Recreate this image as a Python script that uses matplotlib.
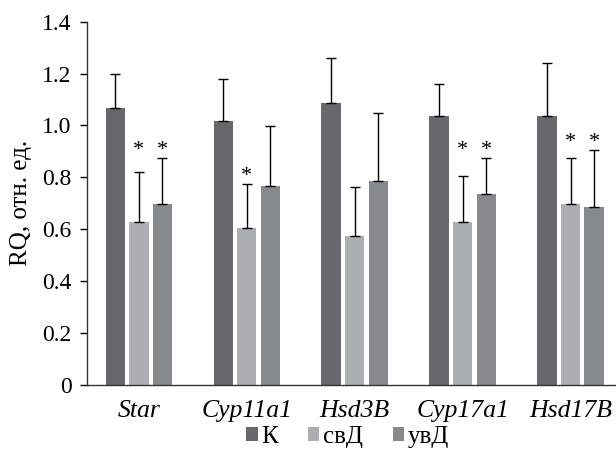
import matplotlib

matplotlib.use("Agg")
import matplotlib.pyplot as plt
import numpy as np
from matplotlib.patches import Patch

plt.rcParams["font.family"] = ["Liberation Serif", "DejaVu Serif"]

# %% Data
genes = ["Star", "Cyp11a1", "Hsd3B", "Cyp17a1", "Hsd17B"]
groups = ["К", "свД", "увД"]
k_vals = [1.066, 1.016, 1.085, 1.037, 1.037]
k_err = [0.132, 0.163, 0.176, 0.124, 0.203]
sv_vals = [0.629, 0.606, 0.575, 0.629, 0.698]
sv_err = [0.190, 0.169, 0.189, 0.177, 0.178]
uv_vals = [0.698, 0.768, 0.788, 0.735, 0.687]
uv_err = [0.178, 0.231, 0.259, 0.141, 0.219]
# significance marks (*) per group
sv_sig = [True, True, False, True, True]
uv_sig = [True, False, False, True, True]

colors = ["#67676c", "#adaeb2", "#88898d"]

# %% Plot
fig = plt.figure(figsize=(6.16, 4.49), dpi=100)
ax = fig.add_axes([0.1412, 0.1425, 0.8588, 0.8092])

x = np.arange(len(genes))
width = 0.18
step = 0.218
for i, (vals, errs) in enumerate([(k_vals, k_err), (sv_vals, sv_err), (uv_vals, uv_err)]):
    pos = x + (i - 1) * step
    ax.bar(pos, vals, width, color=colors[i], zorder=2)
    ax.errorbar(
        pos,
        vals,
        yerr=[np.zeros(len(vals)), errs],
        fmt="none",
        ecolor="black",
        elinewidth=1.0,
        capsize=3.3,
        capthick=1.0,
        zorder=3,
    )

# asterisks: both marks of a gene sit at one height, above the taller error bar
sv_top = np.array(sv_vals) + np.array(sv_err)
uv_top = np.array(uv_vals) + np.array(uv_err)
for j in range(len(genes)):
    tops = [t for t, s in ((sv_top[j], sv_sig[j]), (uv_top[j], uv_sig[j])) if s]
    if not tops:
        continue
    y_star = max(tops) + 0.01
    if sv_sig[j]:
        ax.text(x[j], y_star, "*", ha="center", va="baseline", fontsize=16)
    if uv_sig[j]:
        ax.text(x[j] + step, y_star, "*", ha="center", va="baseline", fontsize=16)

ax.set_xlim(-0.48, 4.42)
ax.set_ylim(0, 1.4)
ax.set_yticks(np.arange(0, 1.41, 0.2))
ax.set_yticklabels(["0", "0.2", "0.4", "0.6", "0.8", "1.0", "1.2", "1.4"], fontsize=17)
ax.set_xticks(x)
ax.set_xticklabels(genes, fontsize=18.5, style="italic")
ax.tick_params(axis="x", length=0, pad=11)
ax.tick_params(axis="y", direction="out", length=5, width=1, pad=6)
for s in ["top", "right"]:
    ax.spines[s].set_visible(False)
for s in ["left", "bottom"]:
    ax.spines[s].set_linewidth(1.0)
    ax.spines[s].set_color("#333333")

fig.text(0.034, 1 - 203 / 449, "RQ, отн. ед.", rotation=90, ha="center", va="center", fontsize=18)

handles = [Patch(facecolor=c) for c in colors]
fig.legend(
    handles,
    groups,
    loc="center",
    bbox_to_anchor=(348 / 616, 1 - 437 / 449),
    ncol=3,
    frameon=False,
    fontsize=18,
    handlelength=0.45,
    handleheight=0.45,
    handletextpad=0.15,
    columnspacing=1.2,
    borderpad=0,
)

plt.savefig("out.png", dpi=100)
plt.close()
